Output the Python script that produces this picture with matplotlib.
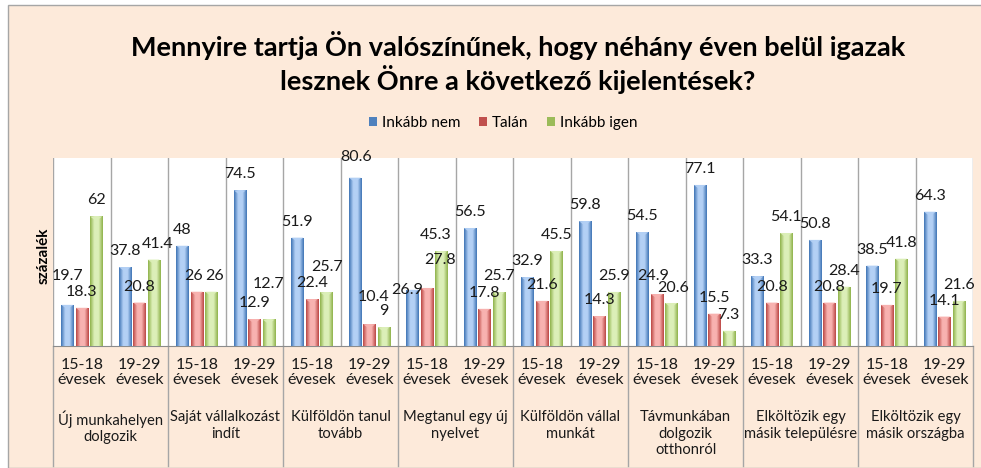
import numpy as np
import matplotlib
matplotlib.use('Agg')
import matplotlib.pyplot as plt
from matplotlib.colors import LinearSegmentedColormap
from matplotlib.patches import Rectangle
from matplotlib.lines import Line2D

plt.rcParams['font.family'] = ['Lato', 'DejaVu Sans']

# data
groups = ['Új munkahelyen\ndolgozik', 'Saját vállalkozást\nindít', 'Külföldön tanul\ntovább',
          'Megtanul egy új\nnyelvet', 'Külföldön vállal\nmunkát', 'Távmunkában\ndolgozik\notthonról',
          'Elköltözik egy\nmásik településre', 'Elköltözik egy\nmásik országba']
ages = ['15-18\névesek', '19-29\névesek']
series = ['Inkább nem', 'Talán', 'Inkább igen']

inkabb_nem = [19.7, 37.8, 48, 74.5, 51.9, 80.6, 26.9, 56.5,
              32.9, 59.8, 54.5, 77.1, 33.3, 50.8, 38.5, 64.3]
talan = [18.3, 20.8, 26, 12.9, 22.4, 10.4, 27.8, 17.8,
         21.6, 14.3, 24.9, 15.5, 20.8, 20.8, 19.7, 14.1]
inkabb_igen = [62, 41.4, 26, 12.7, 25.7, 9, 45.3, 25.7,
               45.5, 25.9, 20.6, 7.3, 54.1, 28.4, 41.8, 21.6]

# (edge colour, centre colour) for the gradient bars
colors = [('#3f74b5', '#b3d0f5'), ('#bb4643', '#f8b2b0'), ('#8fb24a', '#dcefb8')]
legend_colors = ['#4f81bd', '#c0504d', '#9bbb59']

# extra label nudges in pixels (dx, dy) where Excel moved labels apart
nudges = {(0, 0): (0, 13), (1, 2): (4, 0), (2, 1): (-3, 0), (2, 2): (3, 0),
          (3, 2): (0, 19), (4, 2): (1, 9), (5, 0): (1, 5), (5, 1): (4, 11),
          (6, 0): (-5, -16), (6, 1): (13, 12), (6, 2): (-6, 0),
          (10, 1): (-4, 2), (10, 2): (2, -1)}

fig = plt.figure(figsize=(9.81, 4.68), dpi=100)
fig.patch.set_facecolor('white')
# peach chart area
fig.add_artist(Rectangle((8 / 981, 0), 1, 1 - 5 / 468, transform=fig.transFigure,
                         facecolor='#fdeada', edgecolor='#a6a6a6', lw=1, zorder=0))

ax = fig.add_axes([53 / 981, 1 - 346 / 468, 920 / 981, 188 / 468])
ax.set_facecolor('white')

n = len(inkabb_nem)
x = np.arange(n) + 0.5
width = 0.21
offsets = [-0.25, 0, 0.25]
values = [inkabb_nem, talan, inkabb_igen]
grad = np.linspace(0, 1, 64).reshape(1, -1)

for s, vals in enumerate(values):
    edge, centre = colors[s]
    cmap = LinearSegmentedColormap.from_list('g%d' % s, [edge, centre, centre, edge])
    bars = ax.bar(x + offsets[s], vals, width, color=edge, edgecolor='none', zorder=2)
    for i, b in enumerate(bars):
        bx, by = b.get_x(), b.get_y()
        bw, bh = b.get_width(), b.get_height()
        im = ax.imshow(grad, cmap=cmap, aspect='auto', extent=(bx, bx + bw, by, by + bh),
                       zorder=3, interpolation='bilinear')
        im.set_clip_path(b)
        # small bevel at the bar top
        ax.fill([bx, bx + bw, bx + bw / 2], [bh, bh, bh - 2.2], color=centre, alpha=0.9,
                lw=0, zorder=4)
        dx, dy = nudges.get((i, s), (0, 0))
        ax.annotate(f'{vals[i]:g}', xy=(bx + bw / 2, bh), xytext=(dx * 0.72, (16 + dy) * 0.72),
                    textcoords='offset points', ha='center', va='center',
                    fontsize=11.5, color='#1a1a1a', zorder=5)

ax.set_xlim(0, n)
ax.set_ylim(0, 90)
ax.set_xticks([])
ax.set_yticks([])
for sp in ['top', 'left', 'right']:
    ax.spines[sp].set_visible(False)
ax.spines['bottom'].set_color('#8c8c8c')

# vertical gridlines between subgroups
for k in range(n + 1):
    ax.axvline(k, color='#a6a6a6', lw=1, zorder=1)

# separators below the axis between groups
for k in range(0, n + 1, 2):
    ax.add_line(Line2D([k, k], [0, -0.64], transform=ax.get_xaxis_transform(),
                       color='#a6a6a6', lw=1, clip_on=False))

for i in range(n):
    ax.annotate(ages[i % 2], xy=(x[i], 0), xycoords=('data', 'axes fraction'),
                xytext=(0, -12 * 0.72), textcoords='offset points', ha='center', va='top',
                fontsize=11.5, linespacing=1.1, color='#1a1a1a')
for g, name in enumerate(groups):
    ax.annotate(name, xy=(2 * g + 1, 0), xycoords=('data', 'axes fraction'),
                xytext=(0, -64 * 0.72), textcoords='offset points', ha='center', va='top',
                fontsize=10.6, linespacing=1.25, color='#1a1a1a')

fig.text(44 / 981, 1 - 256 / 468, 'százalék', rotation=90, ha='center', va='center',
         fontsize=11, fontweight='bold')

fig.text(518 / 981, 1 - 62 / 468,
         'Mennyire tartja Ön valószínűnek, hogy néhány éven belül igazak\nlesznek Önre a következő kijelentések?',
         ha='center', va='center', fontsize=19.5, fontweight='bold', linespacing=1.2)

handles = [Rectangle((0, 0), 1, 1, facecolor=c, edgecolor='none') for c in legend_colors]
fig.legend(handles, series, loc='center', bbox_to_anchor=(503 / 981, 1 - 123 / 468),
           ncol=3, frameon=False, fontsize=11, handlelength=0.55, handleheight=0.55,
           handletextpad=0.3, columnspacing=1.2)

fig.savefig('out.png', dpi=100)
